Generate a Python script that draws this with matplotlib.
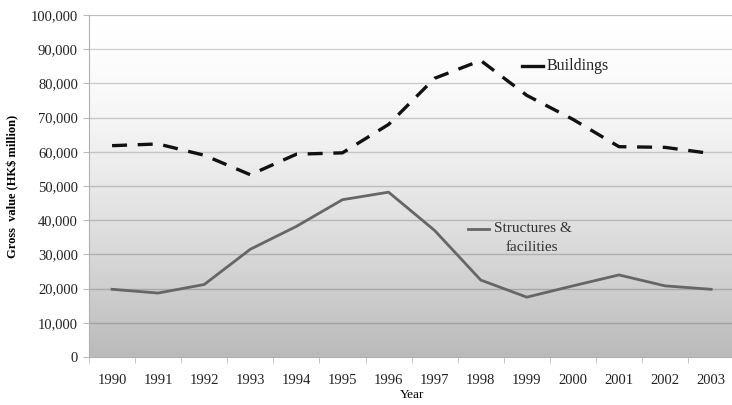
import matplotlib
matplotlib.use("Agg")
import matplotlib.pyplot as plt
import numpy as np

years = ["1990", "1991", "1992", "1993", "1994", "1995", "1996",
         "1997", "1998", "1999", "2000", "2001", "2002", "2003"]
buildings = [61800, 62300, 59000, 53300, 59300, 59700, 68000,
             81500, 86700, 76500, 69500, 61500, 61300, 59500]
structures = [19800, 18700, 21200, 31500, 38200, 46000, 48200,
              37000, 22500, 17500, 20800, 24000, 20800, 19800]
yticks = list(range(0, 100001, 10000))

plt.rcParams['font.family'] = ['Liberation Serif', 'DejaVu Serif']

fig = plt.figure(figsize=(7.32, 4.05), dpi=100)
ax = fig.add_axes([0.1216, 0.1185, 0.8814, 0.8444])

# gradient background
t = np.linspace(0, 1, 256) ** 1.6
grad = t.reshape(-1, 1)
cmap = matplotlib.colors.LinearSegmentedColormap.from_list("g", ["#ffffff", "#bababa"])
ax.imshow(grad, extent=[0, 1, 0, 1], transform=ax.transAxes, cmap=cmap,
          aspect="auto", zorder=0, origin="upper", vmin=0, vmax=1)

x = np.arange(len(years))
ax.set_xlim(-0.5, len(years) - 0.5)
ax.set_ylim(0, 100000)

for v in yticks[1:]:
    ax.axhline(v, color="black", alpha=0.18 if v < 100000 else 0.25,
               lw=1.0 if v < 100000 else 1.6, zorder=1)

ax.plot(x, buildings, color="#111111", lw=2.4, dashes=(4.5, 3.2), zorder=3)
ax.plot(x, structures, color="#666666", lw=2.0, zorder=3)

ax.set_yticks(yticks)
ax.set_yticklabels([f"{v:,}" for v in yticks], fontsize=10.5, color="#222222")
ax.set_xticks(x)
ax.set_xticklabels(years, fontsize=10.5, color="#222222")
ax.set_xticks(np.arange(-0.5, len(years)), minor=True)
ax.tick_params(axis="x", which="major", length=0, pad=12)
ax.tick_params(axis="x", which="minor", length=4, color="#bbbbbb")
ax.tick_params(axis="y", length=4, color="#bbbbbb", pad=4)

for s in ["top", "right"]:
    ax.spines[s].set_visible(False)
ax.spines["left"].set_color("#b0b0b0")
ax.spines["bottom"].set_color("#b0b0b0")
ax.spines["left"].set_zorder(2)

ax.set_xlabel("Year", fontsize=9.5, labelpad=2)
ax.set_ylabel("Gross  value (HK$ million)", fontsize=9, fontweight="bold", labelpad=8)

# inline legend labels
ax.plot([8.9, 9.35], [85200, 85200], color="#111111", lw=2.4, zorder=4)
ax.text(9.42, 85200, "Buildings", fontsize=11.5, va="center", ha="left", color="#222222")
ax.plot([7.72, 8.18], [37500, 37500], color="#666666", lw=2.0, zorder=4)
ax.text(8.28, 37500, "Structures &", fontsize=11, va="center", ha="left", color="#333333")
ax.text(9.1, 31900, "facilities", fontsize=11, va="center", ha="center", color="#333333")

fig.savefig("out.png", dpi=100)
